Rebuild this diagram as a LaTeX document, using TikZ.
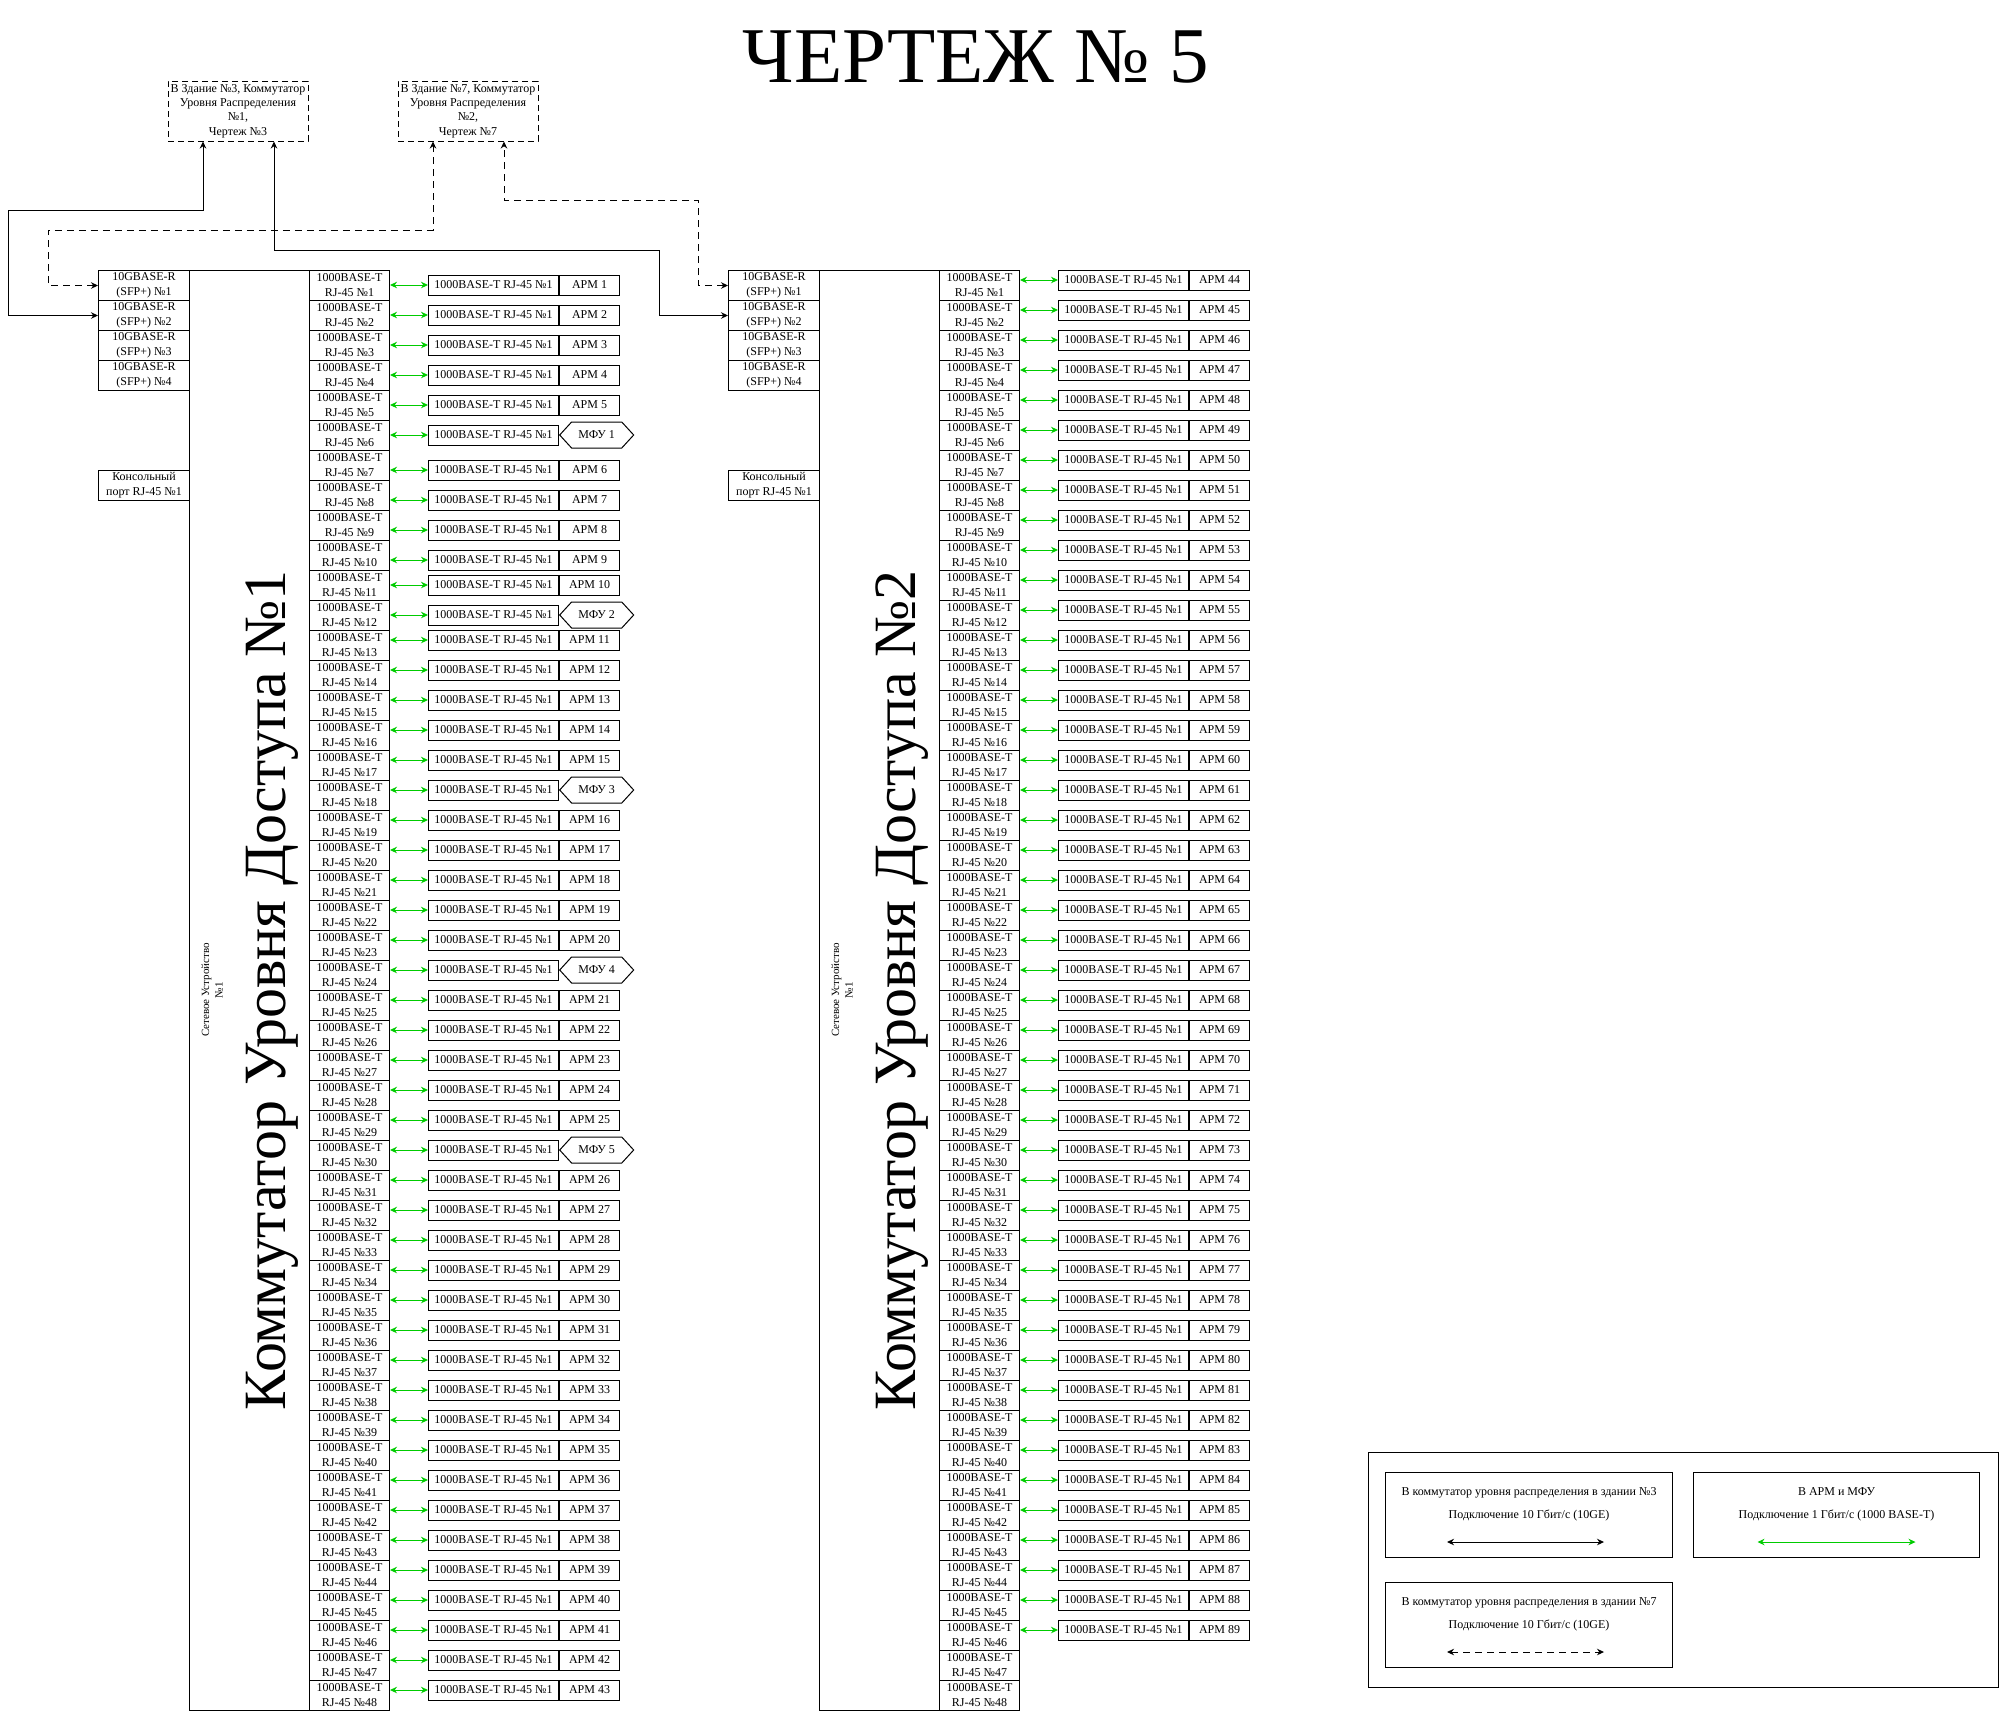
\documentclass[tikz,border=0pt]{standalone}
\usepackage{fontspec}
\setmainfont{Liberation Serif}
\usepackage{xcolor}
\usetikzlibrary{arrows.meta, positioning, shapes.symbols, calc}
\definecolor{lnkgreen}{RGB}{0,204,0}

\begin{document}
\begin{tikzpicture}[x=1pt, y=-1pt, line width=1pt,
    txt/.style={font=\fontsize{12}{15}\selectfont, align=center, inner sep=0pt},
    portcell/.style={txt, draw, minimum width=80pt, minimum height=30pt},
    sfpcell/.style={txt, draw, minimum width=91pt, minimum height=30pt},
    rjcell/.style={txt, draw, minimum width=130pt, minimum height=20pt},
    armcell/.style={txt, draw, minimum width=60pt, minimum height=20pt},
    mfucell/.style={txt, draw, signal, signal to=east and west,
      signal pointer angle=95, minimum width=74pt, minimum height=26pt},
    dstcell/.style={draw, dash pattern=on 6pt off 4pt, minimum width=140pt,
      minimum height=60pt, font=\fontsize{12}{14.3}\selectfont,
      align=center, inner sep=0pt},
    legcell/.style={draw, inner sep=0pt, anchor=north west},
    legtxt/.style={font=\fontsize{12}{23}\selectfont, align=center, inner sep=0pt},
    garrow/.style={draw=lnkgreen,
      {Stealth[length=7pt,width=6.5pt]}-{Stealth[length=7pt,width=6.5pt]}},
    barrow/.style={{Stealth[length=7pt,width=6.5pt]}-{Stealth[length=7pt,width=6.5pt]}},
    darrow/.style={barrow, dash pattern=on 7pt off 5pt},
]
\useasboundingbox (0,0) rectangle (1999,1711);

% Title
\node[font=\fontsize{79}{79}\selectfont, anchor=base] (title) at (976,82) {ЧЕРТЕЖ № 5};

% Distribution switches on other drawings
\node[dstcell] (dst3) at (238,111)
  {В Здание №3, Коммутатор\\Уровня Распределения\\№1,\\Чертеж №3};
\node[dstcell] (dst7) at (468,111)
  {В Здание №7, Коммутатор\\Уровня Распределения\\№2,\\Чертеж №7};

% Access switches
\foreach \s/\dx/\n in {A/0/1, B/630/2} {
  \node[draw, minimum width=120pt, minimum height=1440pt, anchor=north west,
    inner sep=0pt] (body\s) at ({189+\dx},270) {};
  \foreach \i in {1,...,4}
    \node[sfpcell, anchor=north west] (sfp\s\i) at ({98+\dx},{240+30*\i})
      {10GBASE-R\\(SFP+) №\i};
  \node[sfpcell, anchor=north west] (con\s) at ({98+\dx},470)
    {Консольный\\порт RJ-45 №1};
  \foreach \i in {1,...,48}
    \node[portcell, anchor=north west] (port\s\i) at ({309+\dx},{240+30*\i})
      {1000BASE-T\\RJ-45 №\i};
  \node[rotate=90, font=\fontsize{11}{13.5}\selectfont, align=center,
    inner sep=0pt] (net\s) at ({212+\dx},990) {Сетевое Устройство\\№1};
  \node[rotate=90, anchor=base, font=\fontsize{60}{60}\selectfont]
    (name\s) at ({285+\dx},990) {Коммутатор Уровня Доступа №\n};
}

% Workstations and printers, switch 1
\foreach \r in {1,...,48} {
  \pgfmathtruncatemacro\armno{\r-min(floor(\r/6),5)}
  \pgfmathtruncatemacro\ismfu{and(mod(\r,6)==0,\r<31)}
  \pgfmathtruncatemacro\mfuno{\r/6}
  \pgfmathsetmacro\rowdy{ifthenelse(\r>12,-5,ifthenelse(and(\r>6,\r<11),5,0))}
  \node[rjcell, anchor=west] (rjA\r) at (428,{285+30*(\r-1)+\rowdy})
    {1000BASE-T RJ-45 №1};
  \ifnum\ismfu=1
    \node[mfucell, anchor=west] (armA\r) at (rjA\r.east) {МФУ \mfuno};
  \else
    \node[armcell, anchor=west] (armA\r) at (rjA\r.east) {АРМ \armno};
  \fi
  \draw[garrow] (rjA\r.west -| portA\r.east) -- (rjA\r.west);
}

% Workstations, switch 2
\foreach \r in {1,...,46} {
  \pgfmathtruncatemacro\armno{\r+43}
  \node[rjcell, anchor=west] (rjB\r) at (1058,{280+30*(\r-1)})
    {1000BASE-T RJ-45 №1};
  \node[armcell, anchor=west] (armB\r) at (rjB\r.east) {АРМ \armno};
  \draw[garrow] (rjB\r.west -| portB\r.east) -- (rjB\r.west);
}

% Uplinks
\draw[barrow] (sfpA2.west) -| (8,210) -| ([xshift=-35pt]dst3.south);
\draw[darrow] (sfpA1.west) -| (48,230) -| ([xshift=-35pt]dst7.south);
\draw[barrow] (sfpB2.west) -| (659,250) -| ([xshift=36pt]dst3.south);
\draw[darrow] (sfpB1.west) -| (698,200) -| ([xshift=36pt]dst7.south);

% Legend
\node[legcell, minimum width=630pt, minimum height=235pt] (legend) at (1368,1452) {};
\node[legcell, minimum width=287pt, minimum height=85pt] (lgA) at (1385,1472) {};
\node[legcell, minimum width=286pt, minimum height=85pt] (lgB) at (1693,1472) {};
\node[legcell, minimum width=287pt, minimum height=85pt] (lgC) at (1385,1582) {};
\node[legtxt] (lgAt) at ($(lgA.north)+(0,32.5)$)
  {В коммутатор уровня распределения в здании №3\\Подключение 10 Гбит/с (10GE)};
\node[legtxt] (lgBt) at ($(lgB.north)+(0,32.5)$)
  {В АРМ и МФУ\\Подключение 1 Гбит/с (1000 BASE-T)};
\node[legtxt] (lgCt) at ($(lgC.north)+(0,32.5)$)
  {В коммутатор уровня распределения в здании №7\\Подключение 10 Гбит/с (10GE)};
\coordinate (lgAl) at ($(lgA.north)+(-82,70)$);
\coordinate (lgAr) at ($(lgA.north)+(75,70)$);
\coordinate (lgBl) at ($(lgB.north)+(-79,70)$);
\coordinate (lgBr) at ($(lgB.north)+(79,70)$);
\coordinate (lgCl) at ($(lgC.north)+(-82,70)$);
\coordinate (lgCr) at ($(lgC.north)+(75,70)$);
\draw[barrow] (lgAl) -- (lgAr);
\draw[garrow] (lgBl) -- (lgBr);
\draw[darrow] (lgCl) -- (lgCr);
\end{tikzpicture}
\end{document}
